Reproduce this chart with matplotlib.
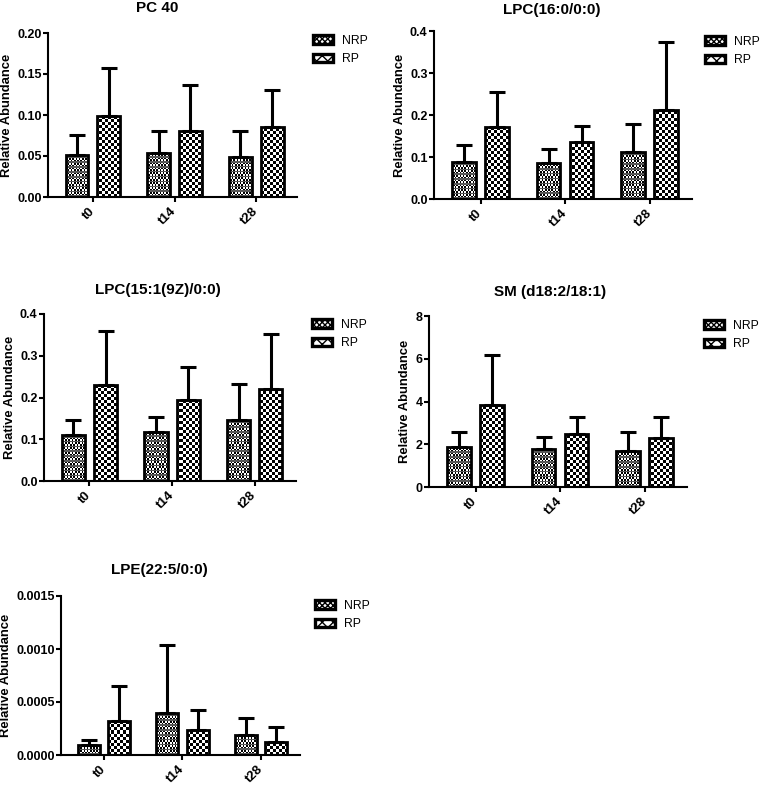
import numpy as np
import matplotlib
matplotlib.use('Agg')
import matplotlib.pyplot as plt
from matplotlib.patches import Patch

plt.rcParams['font.family'] = ['Liberation Sans', 'DejaVu Sans']
plt.rcParams['hatch.color'] = 'black'
plt.rcParams['hatch.linewidth'] = 1.0

# ---------------- data ----------------
timepoints = ['t0', 't14', 't28']
groups = ['NRP', 'RP']

titles = ['PC 40', 'LPC(16:0/0:0)', 'LPC(15:1(9Z)/0:0)', 'SM (d18:2/18:1)', 'LPE(22:5/0:0)']

pc40_nrp = [0.0507, 0.054, 0.049]
pc40_nrp_err = [0.0248, 0.026, 0.031]
pc40_rp = [0.0986, 0.0807, 0.0852]
pc40_rp_err = [0.0588, 0.056, 0.045]

lpc16_nrp = [0.088, 0.086, 0.113]
lpc16_nrp_err = [0.041, 0.033, 0.065]
lpc16_rp = [0.171, 0.136, 0.213]
lpc16_rp_err = [0.084, 0.037, 0.162]

lpc15_nrp = [0.110, 0.118, 0.146]
lpc15_nrp_err = [0.037, 0.036, 0.086]
lpc15_rp = [0.230, 0.195, 0.221]
lpc15_rp_err = [0.129, 0.079, 0.131]

sm_nrp = [1.88, 1.76, 1.67]
sm_nrp_err = [0.67, 0.57, 0.88]
sm_rp = [3.83, 2.49, 2.29]
sm_rp_err = [2.36, 0.78, 0.98]

lpe_nrp = [0.000094, 0.000392, 0.000185]
lpe_nrp_err = [0.000044, 0.000648, 0.000160]
lpe_rp = [0.000323, 0.000235, 0.000126]
lpe_rp_err = [0.000330, 0.000189, 0.000141]

pc40_ticks = [0.0, 0.05, 0.10, 0.15, 0.20]
lpc_ticks = [0.0, 0.1, 0.2, 0.3, 0.4]
sm_ticks = [0, 2, 4, 6, 8]
lpe_ticks = [0.0, 0.0005, 0.0010, 0.0015]

panels = [
    (titles[0], pc40_nrp, pc40_nrp_err, pc40_rp, pc40_rp_err, pc40_ticks, '{:.2f}'),
    (titles[1], lpc16_nrp, lpc16_nrp_err, lpc16_rp, lpc16_rp_err, lpc_ticks, '{:.1f}'),
    (titles[2], lpc15_nrp, lpc15_nrp_err, lpc15_rp, lpc15_rp_err, lpc_ticks, '{:.1f}'),
    (titles[3], sm_nrp, sm_nrp_err, sm_rp, sm_rp_err, sm_ticks, '{:d}'),
    (titles[4], lpe_nrp, lpe_nrp_err, lpe_rp, lpe_rp_err, lpe_ticks, '{:.4f}'),
]

# ---------------- layout (pixels) ----------------
FW, FH = 764, 786
rects = [(48, 33, 297, 197), (434, 31, 692, 199), (44, 314, 296, 481),
         (429, 316, 687, 487), (61, 596, 300, 755)]
title_x = [0.44, 0.457, 0.45, 0.47, 0.41]
title_off = [25, 21, 24, 24, 26]
legend_pos = [(313, 42), (705, 43), (312, 326), (704, 327), (315, 607)]

fig = plt.figure(figsize=(FW / 100, FH / 100), dpi=100)

bar_w = 0.28
off = 0.195


def pattern_fill(ax, bar, cell, W, H, fine=False):
    x0, x1 = ax.get_xlim()
    y0, y1 = ax.get_ylim()
    nx = int(round(W / cell))
    ny = int(round(H / cell))
    ii, jj = np.indices((ny, nx))
    arr = ((ii + jj) % 2).astype(float)
    if fine:
        arr[ii % 3 == 0] = 0.35
    im = ax.imshow(arr, extent=(x0, x1, y0, y1), origin='lower', aspect='auto',
                   cmap='gray', vmin=0, vmax=1, interpolation='nearest', zorder=2)
    im.set_clip_path(bar)
    ax.set_xlim(x0, x1)
    ax.set_ylim(y0, y1)


for k, (title, nrp, nrp_e, rp, rp_e, ticks, fmt) in enumerate(panels):
    l, t, r, b = rects[k]
    W, H = r - l, b - t
    ax = fig.add_axes([l / FW, 1 - b / FH, W / FW, H / FH])
    x = np.arange(len(timepoints))
    ax.set_xlim(-0.55, 2.5)
    ax.set_ylim(0, ticks[-1])

    b1 = ax.bar(x - off, nrp, bar_w, facecolor='none', edgecolor='black', linewidth=2.0, zorder=3)
    b2 = ax.bar(x + off, rp, bar_w, facecolor='none', edgecolor='black', linewidth=2.0, zorder=3)
    for p in b1:
        pattern_fill(ax, p, 1.6, W, H, fine=True)
    for p in b2:
        pattern_fill(ax, p, 3.0, W, H)

    ax.errorbar(x - off, nrp, yerr=[np.zeros(3), nrp_e], fmt='none', ecolor='black',
                elinewidth=2.2, capsize=5.8, capthick=2.2, zorder=2.5)
    ax.errorbar(x + off, rp, yerr=[np.zeros(3), rp_e], fmt='none', ecolor='black',
                elinewidth=2.2, capsize=5.8, capthick=2.2, zorder=2.5)

    ax.set_xlim(-0.55, 2.5)
    ax.set_ylim(0, ticks[-1])
    for s in ['top', 'right']:
        ax.spines[s].set_visible(False)
    for s in ['left', 'bottom']:
        ax.spines[s].set_linewidth(1.5)
    ax.set_yticks(ticks)
    ax.set_yticklabels([fmt.format(v) for v in ticks], fontsize=9, fontweight='bold')
    ax.set_xticks(x)
    ax.set_xticklabels(timepoints, fontsize=9.5, fontweight='bold', rotation=45,
                       ha='right', va='center', rotation_mode='anchor')
    ax.tick_params(axis='both', direction='out', length=3.6, width=1.5, pad=1.0)
    ax.tick_params(axis='x', pad=5.5)
    ax.set_ylabel('Relative Abundance', fontsize=9.4, fontweight='bold', labelpad=3)

    ax.text(title_x[k], 1 + title_off[k] / H, title, transform=ax.transAxes,
            ha='center', va='center', fontsize=11, fontweight='bold')

    handles = [Patch(facecolor='white', edgecolor='black', linewidth=2.4, hatch='xxxxxx'),
               Patch(facecolor='white', edgecolor='black', linewidth=2.4, hatch='xxx')]
    lx, ly = legend_pos[k]
    ax.legend(handles, groups, loc='upper left',
              bbox_to_anchor=(lx / FW, 1 - (ly - 7) / FH), bbox_transform=fig.transFigure,
              frameon=False, fontsize=8.8, handlelength=1.6, handleheight=0.7,
              handletextpad=0.75, labelspacing=0.5, borderpad=0, borderaxespad=0)

fig.savefig('out.png', dpi=100)
